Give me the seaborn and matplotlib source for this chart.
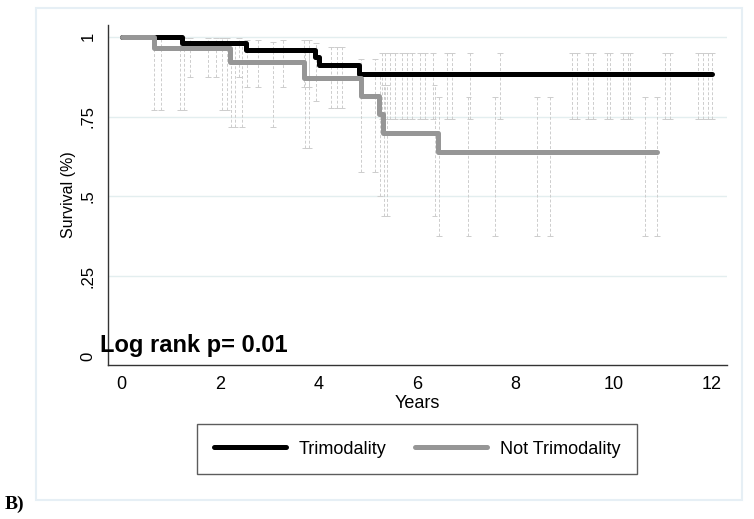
import numpy as np
import pandas as pd
import matplotlib
matplotlib.use("Agg")
import matplotlib.pyplot as plt
from matplotlib.patches import Rectangle
import seaborn as sns

# Kaplan-Meier steps
tri_times = [0, 1.23, 2.52, 3.93, 4.01, 4.83, 12.0]
tri_surv = [1.0, 0.981, 0.958, 0.937, 0.911, 0.885, 0.885]
tri_lo = [1.0, 0.873, 0.843, 0.80, 0.776, 0.742, 0.742]
tri_hi = [1.0, 0.997, 0.99, 0.98, 0.969, 0.95, 0.95]

not_times = [0, 0.66, 2.21, 3.71, 4.86, 5.24, 5.32, 6.43, 10.88]
not_surv = [1.0, 0.966, 0.922, 0.870, 0.814, 0.758, 0.699, 0.638, 0.638]
not_lo = [1.0, 0.772, 0.718, 0.651, 0.577, 0.50, 0.44, 0.375, 0.375]
not_hi = [1.0, 0.995, 0.985, 0.96, 0.93, 0.89, 0.85, 0.812, 0.812]

# times where the dashed CI spikes are drawn
tri_ci_times = [1.22, 1.38, 1.75, 1.92, 2.38, 2.55, 2.78, 3.28, 3.70, 3.80, 3.95,
                4.25, 4.38, 4.48, 5.29, 5.35, 5.45, 5.55, 5.69, 5.79, 5.90, 6.06,
                6.16, 6.33, 6.61, 6.71, 7.08, 7.69, 9.15, 9.25, 9.48, 9.58, 9.86,
                9.93, 10.19, 10.29, 10.33, 11.04, 11.14, 11.71, 11.81, 11.91, 12.0]
not_ci_times = [0.66, 0.80, 1.19, 1.27, 2.04, 2.15, 2.22, 2.30, 2.45, 3.08, 3.72,
                3.80, 4.87, 5.15, 5.25, 5.33, 5.40, 6.36, 6.45, 7.05, 7.59, 8.44,
                8.71, 10.64, 10.88]

labels = ["Trimodality", "Not Trimodality"]
colors = ["#000000", "#969696"]

df = pd.concat([
    pd.DataFrame({"Years": tri_times, "Survival": tri_surv, "Group": labels[0]}),
    pd.DataFrame({"Years": not_times, "Survival": not_surv, "Group": labels[1]}),
])

sns.set_style("white")
plt.rcParams["font.family"] = ["Liberation Sans", "DejaVu Sans"]
plt.rcParams["text.color"] = "black"
plt.rcParams["axes.labelcolor"] = "black"
plt.rcParams["xtick.color"] = "black"
plt.rcParams["ytick.color"] = "black"

fig = plt.figure(figsize=(7.54, 5.19), dpi=100)
ax = fig.add_axes([108 / 754, 154 / 519, 619 / 754, 340 / 519])

# light grid
for yv in [0.25, 0.5, 0.75, 1.0]:
    ax.axhline(yv, color="#e3eeef", lw=1, zorder=0)

# dashed CI spikes
ci_sets = [(tri_times, tri_lo, tri_hi, tri_ci_times),
           (not_times, not_lo, not_hi, not_ci_times)]
for times, lo, hi, cts in ci_sets:
    for t in cts:
        i = np.searchsorted(times, t, side="right") - 1
        i = min(i, len(lo) - 1)
        ax.vlines(t, lo[i], hi[i], colors="#cdcdcd", linestyles=(0, (3, 2)), lw=0.7, zorder=1)
        ax.hlines([lo[i], hi[i]], t - 0.06, t + 0.06, colors="#cdcdcd", lw=0.7, zorder=1)

sns.lineplot(data=df, x="Years", y="Survival", hue="Group", hue_order=labels,
             palette=colors, drawstyle="steps-post", estimator=None, lw=3.6,
             solid_capstyle="round", legend=False, ax=ax, zorder=3)

ax.set_xlim(-0.278, 12.305)
ax.set_ylim(-0.028, 1.037)
ax.set_xticks(range(0, 13, 2))
ax.set_yticks([0, 0.25, 0.5, 0.75, 1.0])
ax.set_yticklabels(["0", ".25", ".5", ".75", "1"], rotation=90, va="center")
ax.tick_params(axis="both", direction="out", length=6, width=1, color="#333333")
ax.tick_params(axis="x", labelsize=13, pad=2)
ax.tick_params(axis="y", labelsize=12, pad=3)
ax.set_xlabel("Years", fontsize=13, labelpad=1)
ax.set_ylabel("Survival (%)", fontsize=11.5, labelpad=3)
for s in ["top", "right"]:
    ax.spines[s].set_visible(False)
for s in ["left", "bottom"]:
    ax.spines[s].set_color("#333333")
    ax.spines[s].set_linewidth(1)

ax.text(-0.44, 0.012, "Log rank p= 0.01", fontsize=17, fontweight="bold",
        va="baseline", ha="left", clip_on=False, zorder=5)

handles = [plt.Line2D([], [], color=c, lw=3.6) for c in colors]
fig.legend(handles, labels, loc="center", bbox_to_anchor=(417 / 754, 1 - 449 / 519),
           ncol=2, fontsize=13, handlelength=4, handletextpad=0.7, columnspacing=1.6,
           borderpad=0.9, frameon=True, fancybox=False, edgecolor="#333333")

fig.patches.append(Rectangle((36 / 754, 1 - 500 / 519), 706 / 754, 492 / 519,
                             transform=fig.transFigure, fill=False,
                             edgecolor="#e6eff5", lw=1.5))
fig.text(5 / 754, 1 - 509 / 519, "B)", fontsize=14, fontweight="bold",
         family=["Liberation Serif", "DejaVu Serif"], va="baseline")

fig.savefig("out.png", dpi=100)
